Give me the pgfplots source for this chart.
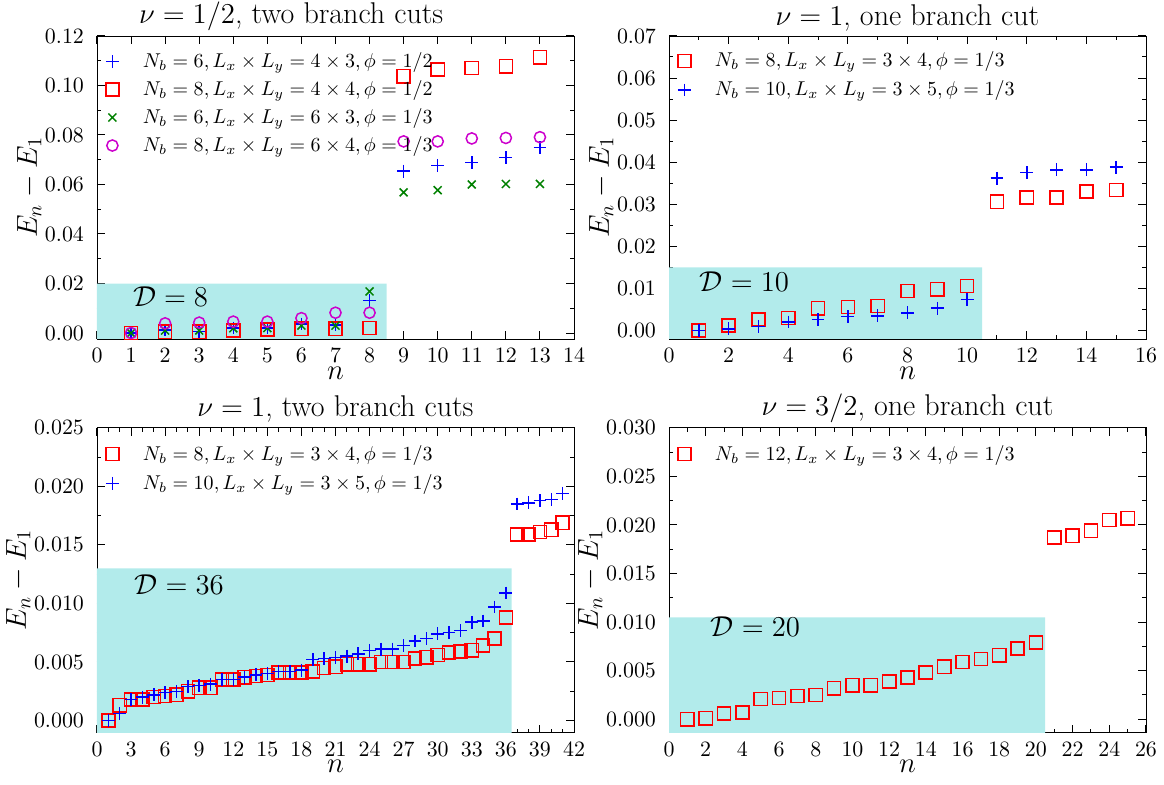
\documentclass[border=0pt]{standalone}
\usepackage{pgfplots}
\pgfplotsset{compat=1.18}
\definecolor{shade}{RGB}{178,235,235}
\definecolor{mag}{RGB}{204,0,204}
\definecolor{dgreen}{RGB}{0,128,0}
\definecolor{pblue}{RGB}{0,0,255}
\definecolor{pred}{RGB}{255,0,0}
\tikzset{nlab/.style={font=\fontsize{14}{16}\selectfont, anchor=center}}
\pgfplotsset{
 myax/.style={
  scale only axis, width=238.5pt, height=151.5pt,
  anchor=south west, clip mode=individual,
  tick pos=both, tick align=inside,
  major tick length=4pt, minor tick length=2pt,
  tick style={black, line width=0.5pt},
  tick label style={font=\fontsize{11}{13}\selectfont},
  yticklabel style={xshift=-3pt},
  xticklabel style={yshift=-1pt},
  label style={font=\fontsize{14}{16}\selectfont},
  title style={font=\fontsize{15}{17}\selectfont, yshift=-7pt},
  ylabel={$E_n-E_1$},
  ylabel style={yshift=-5pt},
  scaled y ticks=false,
  legend style={draw=none, fill=none, font=\fontsize{9.6}{12}\selectfont, at={(0.005,0.973)}, anchor=north west, row sep=1pt,
    /tikz/every odd column/.append style={column sep=10pt}},
  legend cell align=left,
 },
 bl/.style={only marks, mark=+, color=pblue, mark options={draw=pblue, line width=0.75pt}, mark size=3.2pt},
 rd/.style={only marks, mark=square, color=pred, mark options={draw=pred, fill=none, line width=0.75pt}, mark size=3.3pt},
 gr/.style={only marks, mark=x, color=dgreen, mark options={draw=dgreen, line width=0.75pt}, mark size=2.8pt},
 mg/.style={only marks, mark=o, color=mag, mark options={draw=mag, fill=none, line width=0.75pt}, mark size=2.8pt},
}
\begin{document}
\begin{tikzpicture}
\path[use as bounding box] (0,0) rectangle (582pt,392.5pt);
% Panel 1
\begin{axis}[myax, at={(48.5pt,223pt)},
  title={$\nu=1/2$, two branch cuts}, title style={at={(0.407,1)}},
  xmin=0, xmax=14, xtick={0,1,...,14},
  ymin=-0.0024, ymax=0.12, ytick={0,0.02,0.04,0.06,0.08,0.10,0.12}, minor y tick num=1,
  yticklabel style={/pgf/number format/fixed, /pgf/number format/fixed zerofill, /pgf/number format/precision=2}]
\addplot[draw=none, fill=shade, forget plot] coordinates {(0,-1) (8.5,-1) (8.5,0.02) (0,0.02) (0,-1)};
\node[anchor=west, font=\fontsize{14}{16}\selectfont] at (axis cs:0.85,0.0146) {$\mathcal{D}=8$};
\node[nlab] at (axis description cs:0.5,-0.112) {$n$};
\addplot[bl] coordinates {(1,0)(2,0.0012)(3,0.0007)(4,0.002)(5,0.002)(6,0.0036)(7,0.0032)(8,0.0131)(9,0.0654)(10,0.0677)(11,0.0688)(12,0.0709)(13,0.0749)};
\addlegendentry{$N_b=6, L_x\times L_y=4\times3, \phi=1/2$}
\addplot[rd] coordinates {(1,0)(2,0.0005)(3,0.0005)(4,0.001)(5,0.0014)(6,0.0017)(7,0.0017)(8,0.002)(9,0.1037)(10,0.1064)(11,0.1070)(12,0.1078)(13,0.1114)};
\addlegendentry{$N_b=8, L_x\times L_y=4\times4, \phi=1/2$}
\addplot[gr] coordinates {(1,0)(2,0.001)(3,0.001)(4,0.0019)(5,0.002)(6,0.003)(7,0.003)(8,0.0168)(9,0.0568)(10,0.0577)(11,0.0600)(12,0.0602)(13,0.0602)};
\addlegendentry{$N_b=6, L_x\times L_y=6\times3, \phi=1/3$}
\addplot[mg] coordinates {(1,0)(2,0.0039)(3,0.0042)(4,0.0046)(5,0.0046)(6,0.006)(7,0.0082)(8,0.0082)(9,0.0774)(10,0.0774)(11,0.0786)(12,0.0788)(13,0.0791)};
\addlegendentry{$N_b=8, L_x\times L_y=6\times4, \phi=1/3$}
\end{axis}
% Panel 2
\begin{axis}[myax, at={(334.5pt,223pt)},
  title={$\nu=1$, one branch cut},
  legend style={at={(0.005,0.975)}, row sep=1.5pt},
  xmin=0, xmax=16, xtick={0,2,...,16}, minor x tick num=1,
  ymin=-0.002, ymax=0.07, ytick={0,0.01,0.02,0.03,0.04,0.05,0.06,0.07}, minor y tick num=1,
  yticklabel style={/pgf/number format/fixed, /pgf/number format/fixed zerofill, /pgf/number format/precision=2}]
\addplot[draw=none, fill=shade, forget plot] coordinates {(0,-1) (10.5,-1) (10.5,0.015) (0,0.015) (0,-1)};
\node[anchor=west, font=\fontsize{14}{16}\selectfont] at (axis cs:0.8,0.0115) {$\mathcal{D}=10$};
\node[nlab] at (axis description cs:0.5,-0.112) {$n$};
\addplot[rd] coordinates {(1,0)(2,0.0012)(3,0.0026)(4,0.003)(5,0.0053)(6,0.0056)(7,0.0058)(8,0.0094)(9,0.0098)(10,0.0106)(11,0.0306)(12,0.0316)(13,0.0316)(14,0.0330)(15,0.0334)};
\addlegendentry{$N_b=8, L_x\times L_y=3\times4, \phi=1/3$}
\addplot[bl] coordinates {(1,0)(2,0.0004)(3,0.001)(4,0.002)(5,0.0026)(6,0.0033)(7,0.0035)(8,0.0042)(9,0.0053)(10,0.0074)(11,0.0362)(12,0.0375)(13,0.0382)(14,0.0382)(15,0.0388)};
\addlegendentry{$N_b=10, L_x\times L_y=3\times5, \phi=1/3$}
\end{axis}
% Panel 3
\begin{axis}[myax, at={(48.5pt,26pt)}, height=152.5pt,
  title={$\nu=1$, two branch cuts},
  legend style={at={(0.005,0.971)}, row sep=1.6pt},
  xmin=0, xmax=42, xtick={0,3,...,42}, minor x tick num=2,
  ymin=-0.00105, ymax=0.025, ytick={0,0.005,0.010,0.015,0.020,0.025}, minor y tick num=1,
  yticklabel style={/pgf/number format/fixed, /pgf/number format/fixed zerofill, /pgf/number format/precision=3}]
\addplot[draw=none, fill=shade, forget plot] coordinates {(0,-1) (36.5,-1) (36.5,0.013) (0,0.013) (0,-1)};
\node[anchor=west, font=\fontsize{14}{16}\selectfont] at (axis cs:2.7,0.0116) {$\mathcal{D}=36$};
\node[nlab] at (axis description cs:0.5,-0.111) {$n$};
\addplot[rd] coordinates {(1,0)(2,0.0013)(3,0.0018)(4,0.0018)(5,0.002)(6,0.0021)(7,0.0022)(8,0.0025)(9,0.0028)(10,0.0028)(11,0.0035)(12,0.0035)(13,0.0037)(14,0.0038)(15,0.0039)(16,0.0041)(17,0.0041)(18,0.0041)(19,0.0042)(20,0.0045)(21,0.0046)(22,0.0048)(23,0.0048)(24,0.0048)(25,0.005)(26,0.005)(27,0.005)(28,0.0053)(29,0.0054)(30,0.0056)(31,0.0058)(32,0.0059)(33,0.006)(34,0.0064)(35,0.007)(36,0.0088)(37,0.0159)(38,0.0159)(39,0.0161)(40,0.0163)(41,0.0169)};
\addlegendentry{$N_b=8, L_x\times L_y=3\times4, \phi=1/3$}
\addplot[bl] coordinates {(1,0)(2,0.0006)(3,0.0018)(4,0.002)(5,0.0022)(6,0.0024)(7,0.0025)(8,0.0029)(9,0.003)(10,0.0031)(11,0.0035)(12,0.0035)(13,0.0037)(14,0.0039)(15,0.004)(16,0.0042)(17,0.0042)(18,0.0043)(19,0.0052)(20,0.0053)(21,0.0054)(22,0.0055)(23,0.0057)(24,0.006)(25,0.0061)(26,0.0061)(27,0.0064)(28,0.0068)(29,0.007)(30,0.0074)(31,0.0075)(32,0.0077)(33,0.0084)(34,0.0085)(35,0.0097)(36,0.0109)(37,0.0185)(38,0.0186)(39,0.0188)(40,0.0189)(41,0.0194)};
\addlegendentry{$N_b=10, L_x\times L_y=3\times5, \phi=1/3$}
\end{axis}
% Panel 4
\begin{axis}[myax, at={(334.5pt,26pt)}, height=152.5pt,
  title={$\nu=3/2$, one branch cut},
  legend style={at={(0.005,0.971)}},
  xmin=0, xmax=26, xtick={0,2,...,26}, minor x tick num=1,
  ymin=-0.0014, ymax=0.030, ytick={0,0.005,0.010,0.015,0.020,0.025,0.030}, minor y tick num=1,
  yticklabel style={/pgf/number format/fixed, /pgf/number format/fixed zerofill, /pgf/number format/precision=3}]
\addplot[draw=none, fill=shade, forget plot] coordinates {(0,-1) (20.5,-1) (20.5,0.0105) (0,0.0105) (0,-1)};
\node[anchor=west, font=\fontsize{14}{16}\selectfont] at (axis cs:1.9,0.0095) {$\mathcal{D}=20$};
\node[nlab] at (axis description cs:0.5,-0.111) {$n$};
\addplot[rd] coordinates {(1,0)(2,0.0001)(3,0.0006)(4,0.0007)(5,0.0021)(6,0.0022)(7,0.0024)(8,0.0025)(9,0.0032)(10,0.0035)(11,0.0035)(12,0.0039)(13,0.0043)(14,0.0048)(15,0.0054)(16,0.0059)(17,0.0062)(18,0.0066)(19,0.0073)(20,0.0079)(21,0.0187)(22,0.0189)(23,0.0194)(24,0.0205)(25,0.0207)};
\addlegendentry{$N_b=12, L_x\times L_y=3\times4, \phi=1/3$}
\end{axis}
\end{tikzpicture}
\end{document}
